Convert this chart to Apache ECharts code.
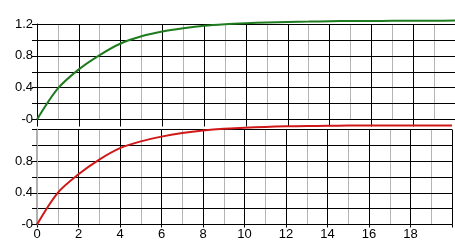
<!DOCTYPE html>
<html><head><meta charset="utf-8">
<script src="https://cdn.jsdelivr.net/npm/echarts@6/dist/echarts.min.js"></script>
<style>html,body{margin:0;padding:0;background:#fff}#c{width:455px;height:245px}</style>
</head><body><div id="c"></div>
<script>
const xValues = [0,1,2,3,4,5,6,7,8,9,10,11,12,13,14,15,16,17,18,19,20];
const greenValues = [0,0.39,0.63,0.81,0.955,1.045,1.105,1.146,1.178,1.197,1.21,1.22,1.226,1.23,1.235,1.237,1.238,1.24,1.242,1.242,1.243];
const redValues = [0,0.40,0.634,0.82,0.965,1.05,1.11,1.155,1.188,1.21,1.222,1.232,1.24,1.244,1.247,1.249,1.25,1.25,1.251,1.251,1.252];
const xLabels = ['0','2','4','6','8','10','12','14','16','18'];

const font = {color:'#000', fontSize:13, fontFamily:'Liberation Sans, Arial, sans-serif'};
function yFmt(hideTop){
  return function(v){
    const k = Math.round(v/0.2);
    if (k % 2 !== 0) return '';
    if (k === 0) return '-0';
    if (hideTop && k === 6) return '';
    return v.toFixed(1);
  };
}
function xFmt(v){
  const s = String(Math.round(v));
  return xLabels.indexOf(s) >= 0 ? s : '';
}
function xAxisMain(gi, showLabels, tickLen){
  return {
    type:'value', gridIndex:gi, min:0, max:20, interval:2, z:1,
    axisLine:{show:true, lineStyle:{color:'#000', width:1}},
    axisTick:{show:true, length:tickLen, lineStyle:{color:'#000'}},
    minorTick:{show:false}, minorSplitLine:{show:false},
    axisLabel:Object.assign({show:showLabels, margin:3, formatter:xFmt}, font),
    splitLine:{show:true, lineStyle:{color:'#000', width:1}}
  };
}
function xAxisMinor(gi){
  return {
    type:'value', gridIndex:gi, min:0, max:20, interval:1, z:0,
    axisLine:{show:false}, axisTick:{show:false}, axisLabel:{show:false},
    minorTick:{show:false}, minorSplitLine:{show:false},
    splitLine:{show:true, lineStyle:{color:'#b4b4b4', width:1}}
  };
}
function yAxisCfg(gi, hideTop, axisColor, axisWidth){
  return {
    type:'value', gridIndex:gi, min:0, max:1.2, interval:0.2, z:2,
    axisLine:{show:true, lineStyle:{color:axisColor, width:axisWidth}},
    axisTick:{show:true, length:5, lineStyle:{color:'#000'}},
    minorTick:{show:false}, minorSplitLine:{show:false},
    axisLabel:Object.assign({margin:4, formatter:yFmt(hideTop)}, font),
    splitLine:{show:true, lineStyle:{color:'#000', width:1}}
  };
}
const chart = echarts.init(document.getElementById('c'), null, {renderer:'canvas'});
chart.setOption({
  animation:false,
  grid:[
    {left:37, top:24, right:-2, height:95.5},
    {left:37, top:129.5, right:-2, height:95}
  ],
  xAxis:[xAxisMain(0,false,7), xAxisMain(1,true,3), xAxisMinor(0), xAxisMinor(1)],
  yAxis:[yAxisCfg(0,false,'#000',1), yAxisCfg(1,true,'#b0b0b0',2)],
  series:[
    {type:'line', xAxisIndex:0, yAxisIndex:0, data:xValues.map((x,i)=>[x,greenValues[i]]),
     showSymbol:false, smooth:0.3, clip:false, z:5, lineStyle:{color:'#1e7b1e', width:2}},
    {type:'line', xAxisIndex:1, yAxisIndex:1, data:xValues.map((x,i)=>[x,redValues[i]]),
     showSymbol:false, smooth:0.3, clip:false, z:5, lineStyle:{color:'#d01818', width:2}}
  ]
});
</script></body></html>
